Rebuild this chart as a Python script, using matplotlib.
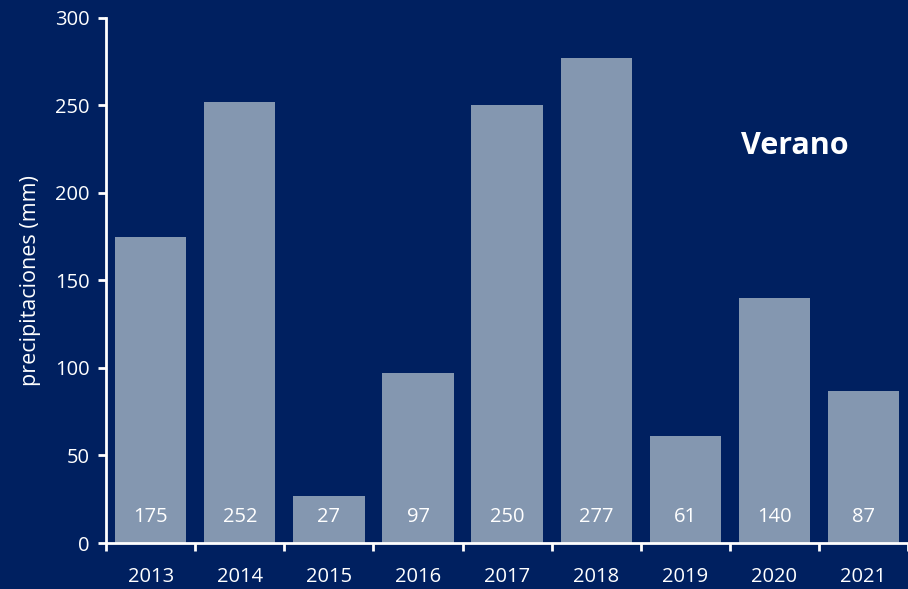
import matplotlib
matplotlib.use("Agg")
import matplotlib.pyplot as plt
from matplotlib.ticker import FixedLocator

years = ["2013", "2014", "2015", "2016", "2017", "2018", "2019", "2020", "2021"]
rain_mm = [175, 252, 27, 97, 250, 277, 61, 140, 87]
season = "Verano"

navy = "#002060"
bar_color = "#8497B0"

plt.rcParams["font.family"] = ["Open Sans", "DejaVu Sans"]

fig = plt.figure(figsize=(9.08, 5.89), dpi=100, facecolor=navy)
ax = fig.add_axes([0.117, 0.078, 0.883, 0.892], facecolor=navy)

x = list(range(len(years)))
bars = ax.bar(x, rain_mm, width=0.8, color=bar_color, zorder=2)

# valores dentro de cada barra, cerca de la base
for xi, v in zip(x, rain_mm):
    ax.text(xi, 15, str(v), ha="center", va="center", color="white", fontsize=14.5)

ax.set_xlim(-0.5, len(years) - 0.5)
ax.set_ylim(0, 300)
ax.set_yticks(range(0, 301, 50))
ax.set_xticks(x)
ax.set_xticklabels(years)
ax.xaxis.set_minor_locator(FixedLocator([i - 0.5 for i in range(len(years) + 1)]))
ax.tick_params(axis="x", which="major", length=0, pad=17, labelsize=14.5, colors="white")
ax.tick_params(axis="x", which="minor", length=6, width=2, color="white", direction="out")
ax.tick_params(axis="y", length=6, width=2, colors="white", labelsize=14.5, pad=6)

for side in ("top", "right"):
    ax.spines[side].set_visible(False)
for side in ("left", "bottom"):
    ax.spines[side].set_color("white")
    ax.spines[side].set_linewidth(2)

ax.set_ylabel("precipitaciones (mm)", color="white", fontsize=15.5, labelpad=10)
ax.text(7.23, 227, season, ha="center", va="center", color="white",
        fontsize=22, fontweight="bold")

fig.savefig("out.png", dpi=100, facecolor=navy)
